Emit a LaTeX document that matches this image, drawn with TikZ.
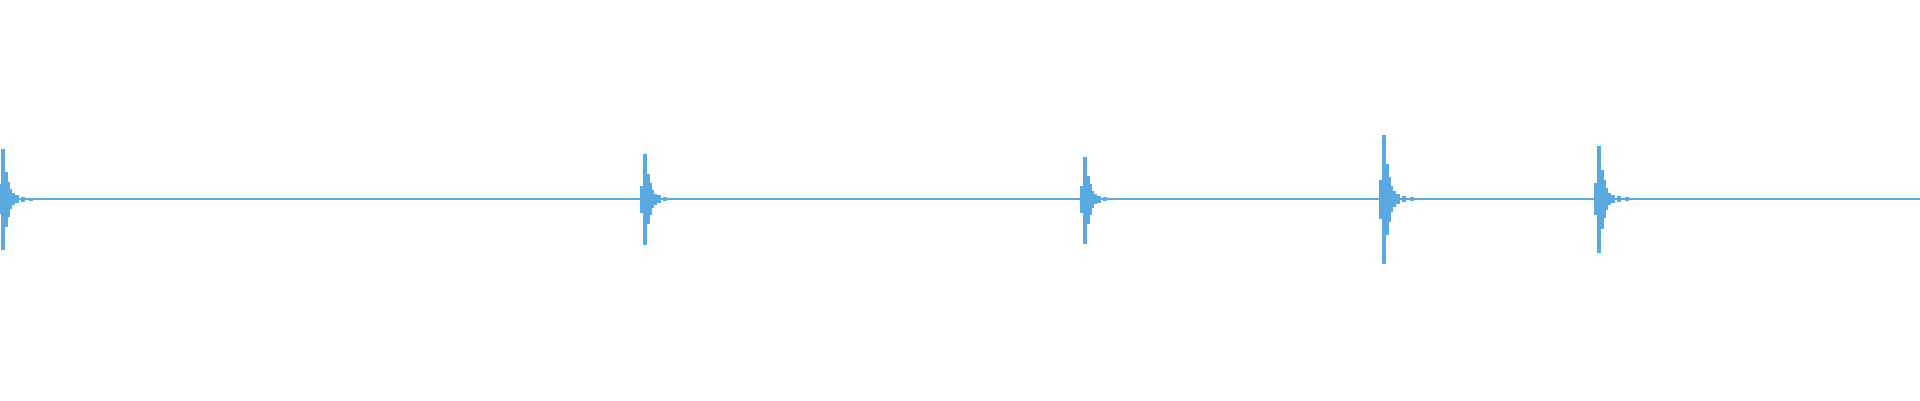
\documentclass[tikz,border=0pt]{standalone}
\usetikzlibrary{calc}
\definecolor{waveBlue}{RGB}{90,170,225}
\tikzset{
  trace/.style={draw=waveBlue, line width=0.6pt},
  spike/.style={draw=waveBlue, line width=0.9pt}
}
% burst: x position, top, bottom (cm)
\newcommand{\burst}[3]{%
  \draw[spike] (#1,#2) -- (#1,#3);
  \foreach \k/\a in {0.03/0.55,0.05/0.35,0.07/0.2,0.1/0.12,0.14/0.08,0.2/0.05,0.28/0.03}{
    \draw[spike] ({#1+\k},{2.01+\a*(#2-2.01)}) -- ({#1+\k},{2.01+\a*(#3-2.01)});
  }
  \draw[spike] ({#1-0.03},{2.01+0.3*(#2-2.01)}) -- ({#1-0.03},{2.01+0.3*(#3-2.01)});
}
\begin{document}
\begin{tikzpicture}
  \useasboundingbox (0,0) rectangle (19.2,4);
  % baseline
  \coordinate (start) at (0,2.01);
  \coordinate (end) at (19.2,2.01);
  \draw[trace] (start) -- (end);
  % bursts
  \burst{0.03}{2.51}{1.50}
  \burst{6.45}{2.46}{1.55}
  \burst{10.85}{2.43}{1.56}
  \burst{13.84}{2.65}{1.36}
  \burst{15.99}{2.54}{1.47}
\end{tikzpicture}
\end{document}
